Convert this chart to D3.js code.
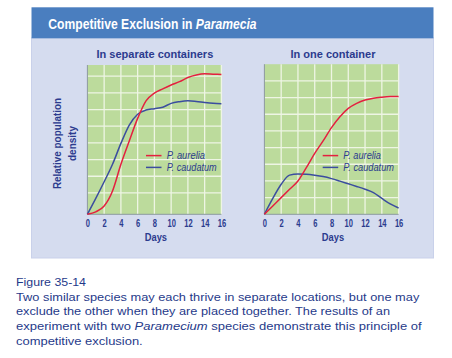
<!DOCTYPE html>
<html><head><meta charset="utf-8">
<script src="https://cdn.jsdelivr.net/npm/d3@7"></script>
<style>
html,body{margin:0;padding:0;background:#fff;}
svg{display:block;}
.nar{font-family:"Liberation Sans",Arial,sans-serif;}
.cap{font-family:"Liberation Sans",Arial,sans-serif;}
</style>
</head><body>
<svg id="c" width="452" height="358"></svg>
<script>
// ---- data ----
const days = [0,1,2,3,4,5,6,7,8,9,10,11,12,13,14,15,16];
const dayTicks = [0,2,4,6,8,10,12,14,16];
const sepAurelia  = [0,0.15,0.5,1.4,3.0,4.4,5.75,6.8,7.27,7.52,7.75,7.95,8.2,8.35,8.42,8.4,8.38];
const sepCaudatum = [0,0.95,1.95,3.0,4.25,5.35,6.0,6.25,6.33,6.42,6.65,6.75,6.8,6.76,6.7,6.65,6.62];
const oneAurelia  = [0,0.5,1.0,1.5,2.0,2.8,3.65,4.4,5.2,5.85,6.35,6.65,6.85,6.96,7.02,7.06,7.07];
const oneCaudatum = [0,0.95,1.8,2.35,2.42,2.4,2.34,2.26,2.14,1.99,1.83,1.67,1.5,1.3,0.95,0.62,0.38];
const seriesNames = ["P. aurelia","P. caudatum"];
const panelTitles = ["In separate containers","In one container"];
const yLabel = ["Relative population","density"];
const xLabel = "Days";
const captionLines = [
  [["Figure 35-14",false]],
  [["Two similar species may each thrive in separate locations, but one may",false]],
  [["exclude the other when they are placed together. The results of an",false]],
  [["experiment with two ",false],["Paramecium",true],[" species demonstrate this principle of",false]],
  [["competitive exclusion.",false]]
];
const captionWidths = [70,403.3,374,405.7,126.7];

// ---- style ----
const NAVY = "#2c3b8e", RED = "#e4203f", BLUE = "#3b4d9f";
const svg = d3.select("#c");

// frame
svg.append("rect").attr("x",31.5).attr("y",38).attr("width",402).attr("height",220)
  .attr("fill","#d5dcef").attr("stroke","#c9d1ea").attr("stroke-width",1);
svg.append("rect").attr("x",31.5).attr("y",7.3).attr("width",402).attr("height",31)
  .attr("fill","#4a7ebf");
const tg = svg.append("g");
const title = tg.append("text").attr("class","nar").attr("x",0).attr("y",0)
  .attr("font-size",14.5).attr("font-weight","bold").attr("fill","#fff");
title.append("tspan").text("Competitive Exclusion in ");
title.append("tspan").attr("font-style","italic").text("Paramecia");
const natW = title.node().getComputedTextLength();
tg.attr("transform",`translate(48.3,29.3) scale(${208.4/natW},1)`);

const panels = [
  {x0:87.4, x1:221.4, yTop:65, yBot:214.3, ymax:8.95, grid:[1.28,2.28,3.28,4.28,5.28,6.28,7.28,8.28],
   a:sepAurelia, c:sepCaudatum, tw:116.7, lx:146, tx:166.7},
  {x0:264.4, x1:398.6, yTop:64.2, yBot:214.3, ymax:9, grid:[1,2,3,4,5,6,7,8],
   a:oneAurelia, c:oneCaudatum, tw:85, lx:322.7, tx:343.3}
];

panels.forEach((p,i)=>{
  const x = d3.scaleLinear().domain([0,16]).range([p.x0,p.x1]);
  const y = d3.scaleLinear().domain([0,p.ymax]).range([p.yBot,p.yTop]);
  const g = svg.append("g");
  g.append("rect").attr("x",p.x0).attr("y",p.yTop).attr("width",p.x1-p.x0).attr("height",p.yBot-p.yTop)
    .attr("fill","#bcdb9c");
  // grid
  g.selectAll(".vg").data(dayTicks.slice(1)).join("line")
    .attr("x1",d=>x(d)).attr("x2",d=>x(d)).attr("y1",p.yTop).attr("y2",p.yBot)
    .attr("stroke","#eef5e4").attr("stroke-width",1.3);
  g.selectAll(".hg").data(p.grid).join("line")
    .attr("x1",p.x0).attr("x2",p.x1).attr("y1",d=>y(d)).attr("y2",d=>y(d))
    .attr("stroke","#eef5e4").attr("stroke-width",1.3);
  // axes lines
  g.append("line").attr("x1",p.x0).attr("x2",p.x0).attr("y1",p.yTop).attr("y2",p.yBot)
    .attr("stroke","#8d9aa0").attr("stroke-width",1);
  g.append("line").attr("x1",p.x0).attr("x2",p.x1).attr("y1",p.yBot).attr("y2",p.yBot)
    .attr("stroke","#8d9aa0").attr("stroke-width",1);
  // x axis
  const ax = g.append("g").attr("transform",`translate(0,${p.yBot})`)
    .call(d3.axisBottom(x).tickValues(dayTicks).tickSize(0).tickPadding(4.5).tickFormat(d3.format("d")));
  ax.select(".domain").remove();
  ax.selectAll("text").attr("class","nar").attr("font-size",11).attr("font-weight","bold").attr("fill",NAVY)
    .attr("textLength",d=>String(d).length*4.2).attr("lengthAdjust","spacingAndGlyphs");
  // lines
  const line = d3.line().x((d,j)=>x(days[j])).y(d=>y(d)).curve(d3.curveMonotoneX);
  g.append("path").attr("d",line(p.c)).attr("fill","none").attr("stroke",BLUE).attr("stroke-width",1.5);
  g.append("path").attr("d",line(p.a)).attr("fill","none").attr("stroke",RED).attr("stroke-width",1.5);
  // panel title
  g.append("text").attr("class","nar").attr("x",(p.x0+p.x1)/2+(i?1.5:0.5)).attr("y",57.5)
    .attr("text-anchor","middle").attr("font-size",11.5).attr("font-weight","bold").attr("fill",NAVY)
    .attr("textLength",p.tw).attr("lengthAdjust","spacingAndGlyphs").text(panelTitles[i]);
  // x label
  g.append("text").attr("class","nar").attr("x",(p.x0+p.x1)/2+1.5).attr("y",241.3)
    .attr("text-anchor","middle").attr("font-size",11.5).attr("font-weight","bold").attr("fill",NAVY)
    .attr("textLength",22.3).attr("lengthAdjust","spacingAndGlyphs").text(xLabel);
  // legend
  const ly = [155.6,167.4], tw = i?[37.7,50.7]:[38.3,50];
  [RED,BLUE].forEach((col,k)=>{
    g.append("line").attr("x1",p.lx).attr("x2",p.lx+15.5).attr("y1",ly[k]).attr("y2",ly[k])
      .attr("stroke",col).attr("stroke-width",1.5);
    g.append("text").attr("class","nar").attr("x",p.tx).attr("y",ly[k]+3.8)
      .attr("font-size",11).attr("font-style","italic").attr("fill",NAVY)
      .attr("textLength",tw[k]).attr("lengthAdjust","spacingAndGlyphs").text(seriesNames[k]);
  });
});

// y label
[[60.5,91],[76,35]].forEach(([bx,len],k)=>{
  svg.append("text").attr("class","nar").attr("transform",`translate(${bx},143.5) rotate(-90)`)
    .attr("text-anchor","middle").attr("font-size",11.5).attr("font-weight","bold").attr("fill",NAVY)
    .attr("textLength",len).attr("lengthAdjust","spacingAndGlyphs").text(yLabel[k]);
});

// caption
const baselines = [286,300.7,315.4,330.2,345];
captionLines.forEach((parts,i)=>{
  const t = svg.append("text").attr("class","cap").attr("x",16).attr("y",baselines[i])
    .attr("font-size",11.6).attr("fill","#1f3a8a")
    .attr("textLength",captionWidths[i]).attr("lengthAdjust","spacingAndGlyphs");
  parts.forEach(([s,it])=>{ const ts=t.append("tspan").text(s); if(it) ts.attr("font-style","italic"); });
});
</script>
</body></html>
